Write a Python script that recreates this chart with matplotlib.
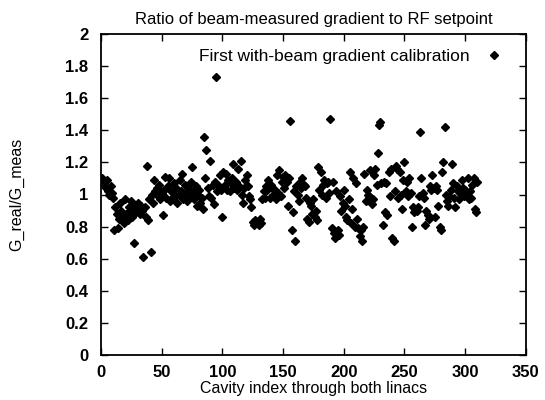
import numpy as np
import matplotlib
matplotlib.use("Agg")
import matplotlib.pyplot as plt

# cavity index and measured ratio
cavity = np.arange(1, 311)
ratio = [
    1.10, 1.08, 1.06, 1.04, 1.09, 1.02, 1.00, 1.05, 1.01, 0.98,
    0.78, 0.92, 0.88, 0.79, 0.85, 0.95, 0.90, 0.86, 0.82, 0.97,
    0.88, 0.84, 0.92, 0.90, 0.96, 0.86, 0.70, 0.93, 0.89, 0.91,
    0.95, 0.88, 0.93, 0.90, 0.61, 0.92, 0.86, 1.18, 0.84, 0.97,
    0.64, 1.00, 0.95, 1.09, 1.02, 1.04, 0.99, 1.06, 0.97, 1.01,
    0.87, 1.03, 1.11, 0.98, 1.05, 1.10, 0.96, 1.02, 0.98, 1.07,
    0.99, 1.04, 0.95, 1.00, 1.09, 1.02, 1.13, 0.97, 1.06, 1.01,
    0.96, 1.04, 0.99, 1.08, 1.17, 1.02, 0.97, 1.05, 0.93, 1.00,
    1.03, 0.95, 0.98, 0.91, 1.36, 1.10, 1.28, 1.04, 0.99, 1.21,
    0.98, 1.06, 0.94, 1.08, 1.73, 1.02, 1.05, 1.12, 1.03, 0.86,
    1.14, 1.06, 1.13, 1.03, 1.09, 1.02, 1.07, 1.10, 1.19, 1.04,
    1.08, 1.03, 1.16, 1.05, 1.21, 1.00, 0.95, 1.04, 1.09, 1.12,
    1.05, 0.99, 0.97, 0.92, 0.83, 0.81, 0.84, 0.82, 0.83, 0.81,
    0.85, 0.82, 0.97, 1.02, 0.98, 1.05, 1.03, 1.09, 0.98, 1.06,
    1.04, 1.00, 1.03, 0.97, 1.12, 1.01, 1.15, 0.99, 1.08, 1.11,
    1.04, 1.12, 1.08, 0.93, 1.10, 1.46, 0.78, 0.89, 1.02, 0.71,
    1.05, 1.00, 0.96, 1.08, 1.04, 1.10, 1.06, 1.05, 0.98, 0.85,
    0.83, 0.95, 0.93, 0.88, 0.97, 0.86, 0.90, 0.84, 1.17, 1.03,
    1.14, 1.00, 1.06, 1.09, 0.98, 1.07, 1.08, 1.01, 1.47, 0.79,
    1.08, 0.76, 0.73, 1.02, 0.78, 0.75, 0.99, 0.90, 0.95, 1.03,
    0.93, 0.86, 0.84, 0.97, 1.14, 0.82, 0.91, 1.10, 0.80, 1.07,
    0.85, 0.79, 0.74, 0.78, 0.71, 0.80, 1.13, 0.96, 1.03, 1.00,
    0.99, 1.15, 0.94, 0.97, 1.12, 1.16, 1.06, 1.26, 1.43, 1.45,
    1.07, 0.81, 1.08, 0.89, 1.07, 0.87, 1.14, 0.99, 1.16, 0.73,
    0.71, 1.02, 1.18, 1.16, 0.98, 1.14, 1.00, 0.91, 1.09, 1.20,
    1.02, 1.08, 0.99, 1.10, 1.01, 0.80, 0.92, 0.89, 0.91, 0.90,
    0.92, 0.99, 1.39, 1.10, 1.01, 0.98, 0.81, 0.90, 0.87, 0.85,
    1.05, 1.03, 1.12, 1.04, 0.86, 1.05, 1.03, 0.93, 0.80, 0.78,
    1.14, 1.20, 1.42, 1.00, 0.96, 0.93, 0.99, 1.03, 1.19, 1.07,
    0.98, 0.92, 1.05, 1.02, 0.97, 1.01, 1.09, 1.04, 0.99, 1.03,
    1.00, 1.10, 0.97, 1.02, 0.98, 1.06, 1.10, 0.91, 0.89, 1.08,
]

XTICKS = [0, 50, 100, 150, 200, 250, 300, 350]
YTICKS = [0, 0.2, 0.4, 0.6, 0.8, 1, 1.2, 1.4, 1.6, 1.8, 2]
YTICK_LABELS = ["0", "0.2", "0.4", "0.6", "0.8", "1", "1.2", "1.4", "1.6", "1.8", "2"]

plt.rcParams["font.family"] = ["Liberation Sans", "DejaVu Sans"]

fig = plt.figure(figsize=(5.45, 4.0), dpi=100)
ax = fig.add_axes([0.185, 0.1125, 0.78, 0.8025])

ax.plot(cavity, ratio, linestyle="none", marker="D", markersize=3.6,
        color="black", label="First with-beam gradient calibration")

ax.set_xlim(0, 350)
ax.set_ylim(0, 2)
ax.set_xticks(XTICKS)
ax.set_yticks(YTICKS)
ax.set_yticklabels(YTICK_LABELS)
ax.tick_params(direction="in", length=5, width=1, top=True, right=True,
               labelsize=12)
ax.tick_params(axis="x", pad=7)
ax.tick_params(axis="y", pad=9)
for lab in ax.get_xticklabels() + ax.get_yticklabels():
    lab.set_fontweight("bold")
for sp in ax.spines.values():
    sp.set_linewidth(1.3)

ax.set_title("Ratio of beam-measured gradient to RF setpoint",
             fontsize=12, pad=7)
ax.set_xlabel("Cavity index through both linacs", fontsize=11.5, labelpad=1)
ax.set_ylabel("G_real/G_meas", fontsize=11.5)
ax.yaxis.set_label_coords(-0.18, 0.5)

ax.legend(loc="upper right", bbox_to_anchor=(0.965, 0.975), borderaxespad=0,
          frameon=False, markerfirst=False, fontsize=12.5,
          handlelength=1.2, handletextpad=0.8)

fig.savefig("out.png", dpi=100)
